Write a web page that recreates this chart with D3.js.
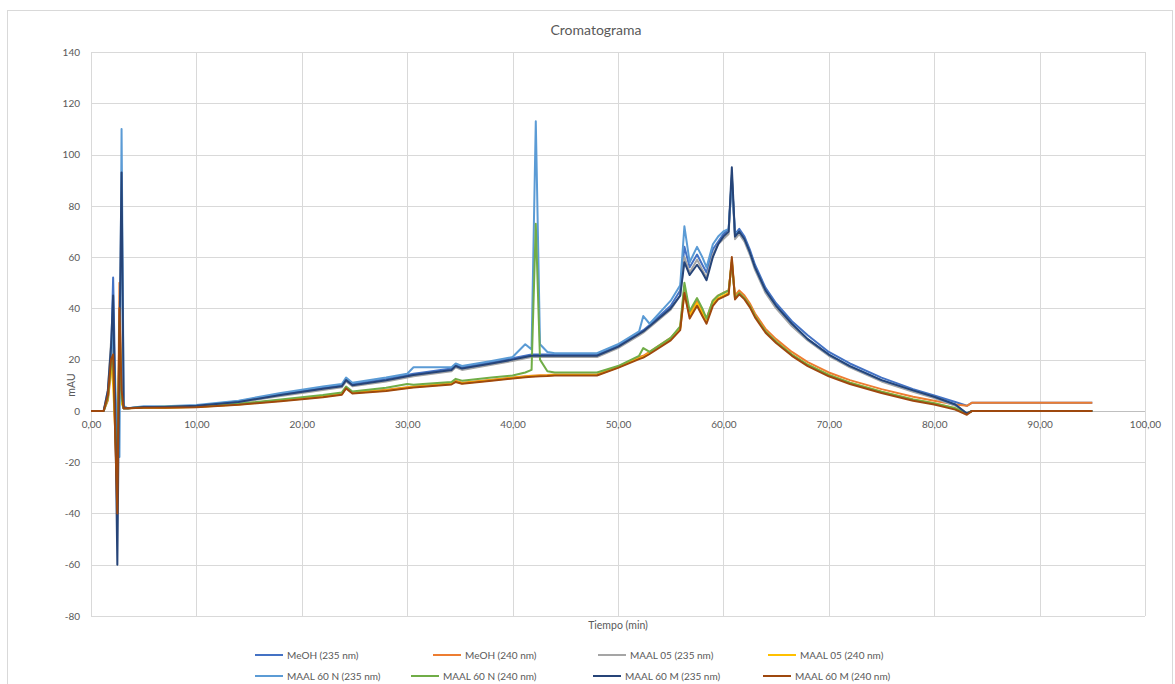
<!DOCTYPE html>
<html>
<head>
  <meta charset="utf-8">
  <script src="https://d3js.org/d3.v7.min.js"></script>
  <style>
    html, body {
      margin: 0px;
      padding: 0px;
      background: #ffffff;
      font-family: Lato, "Open Sans", sans-serif;
    }

    .axis text {
      fill: #595959;
      font-size: 10px;
      font-family: Lato, "Open Sans", sans-serif;
    }

    .title {
      fill: #595959;
      font-size: 14px;
    }

    .axisLabel {
      fill: #595959;
      font-size: 10.5px;
    }

    .legend text {
      fill: #595959;
      font-size: 10px;
    }
</style>
</head>
<body>
  <div id="chart"></div>
  <script>

      /*
      DATA
      */
      const tiempo = [
        0, 1.2, 1.6, 1.9, 2.1, 2.3, 2.5, 2.7, 2.9, 3.1, 3.5,
        5, 7, 10, 14, 18, 22, 23.8, 24.2, 24.8, 28,
        30, 30.6, 31.5, 34.2, 34.6, 35.2, 38, 40, 41.2, 41.8,
        42.2, 42.6, 43.3, 44, 48, 50, 52, 52.4, 53, 55,
        55.9, 56.3, 56.8, 57.5, 58, 58.4, 59, 59.5, 60, 60.5, 60.8,
        61.1, 61.5, 62, 62.5, 63, 64, 65, 66.5, 68, 70,
        72, 75, 78, 80, 82, 83.1, 83.6, 90, 95
      ];

      const meoh235 = [
        0, 0, 5, 20, 52, 10, -20, 25, 10, 1, 1,
        1.5, 1.5, 2, 3.8, 6.5, 9, 10, 12.5, 10.5, 12.5,
        14, 14.5, 15, 16.5, 18, 17, 19, 20.5, 21.5, 22,
        22, 22, 22, 22, 22, 25.5, 30.5, 31.5, 33.5, 41,
        47, 64, 56, 61, 57, 54, 63, 66, 69, 71, 90,
        69, 71, 68, 63, 57, 48, 42, 35, 29.5, 23,
        18.5, 13, 8.5, 6, 3.5, 2, 3.2, 3.2, 3.2
      ];

      const meoh240 = [
        0, 0, 4, 15, 25, -10, -33, 50, 5, 1, 1,
        1.3, 1.3, 1.6, 2.6, 4.2, 5.8, 6.8, 9, 7.2, 8.3,
        9.2, 9.5, 9.8, 10.8, 11.8, 11, 12.2, 13, 13.5, 13.7,
        13.8, 13.9, 14, 14.2, 14.2, 17.3, 21, 21.5, 23, 28.5,
        32.5, 48, 38, 43, 39, 36, 43, 45, 46, 47, 58,
        45, 47, 45, 42, 38, 32, 28, 23, 19, 15,
        12, 8.5, 5.5, 4, 2.5, 2, 3.2, 3.2, 3.2
      ];

      const maal05_235 = [
        0, 0, 8, 27, 15, -5, -25, 27, 5, 1, 1,
        1.5, 1.4, 1.8, 3.3, 5.8, 8.2, 9.2, 11.5, 9.6, 11.5,
        13, 13.5, 14, 15.5, 17, 16, 18, 19.5, 20.5, 21,
        21, 21, 21, 21, 21, 24.5, 29.5, 30.5, 32.5, 39.5,
        45, 60, 54, 59, 55, 52, 61, 65, 67, 69, 92,
        67, 69, 66, 61, 55, 46, 40, 33, 27.5, 21.5,
        17, 11.5, 7.5, 5, 2, -1, 0, 0, 0
      ];

      const maal05_240 = [
        0, 0, 5, 20, 10, -8, -30, 30, 3, 1, 1,
        1.2, 1.2, 1.5, 2.5, 4, 5.5, 6.5, 9, 7, 8,
        9, 9.3, 9.6, 10.5, 11.5, 10.8, 12, 12.8, 13.3, 13.5,
        13.6, 13.7, 13.8, 14, 14, 17, 20.5, 21, 22.5, 28,
        32, 46, 37, 42, 38, 35, 42, 44, 45, 46, 59,
        44, 46, 44, 41, 37, 31, 27, 22, 18, 14,
        11, 7.5, 4.5, 3, 1, -1, 0, 0, 0
      ];

      const maal60n_235 = [
        0, 0, 6, 22, 30, 5, -5, -18, 110, 2, 1,
        1.8, 1.8, 2.3, 4, 7, 9.5, 10.5, 13, 11, 13,
        14.5, 17, 17, 17, 18.5, 17.5, 19.5, 21, 26, 24,
        113, 26, 23, 22.5, 22.5, 26, 31, 37, 34, 43,
        49, 72, 58, 64, 60, 56, 65, 68, 70, 71, 91,
        69, 70, 67, 62, 56, 47, 41, 34, 28, 22,
        17.5, 12, 8, 5.5, 2.5, -1, 0, 0, 0
      ];

      const maal60n_240 = [
        0, 0, 5, 18, 20, -5, -30, 35, 5, 1, 1,
        1.4, 1.6, 1.7, 2.8, 4.5, 6.2, 7.2, 9.5, 7.6, 9,
        10.5, 10.2, 10.5, 11.3, 12.5, 11.8, 13, 13.8, 15, 16,
        73, 20, 15.5, 15, 15, 17.5, 21.5, 24.5, 23, 28.5,
        33, 50, 39, 44, 40, 36, 43, 45, 46, 47, 58,
        44, 46, 44, 41, 37, 31, 27, 22, 18, 14,
        11, 7.5, 4.5, 3, 1, -1, 0, 0, 0
      ];

      const maal60m_235 = [
        0, 0, 8, 25, 45, 0, -60, 27, 93, 1, 1,
        1.5, 1.5, 2, 3.5, 6.2, 8.6, 9.6, 12, 10, 12,
        13.5, 14, 14.5, 16, 17.5, 16.5, 18.5, 20, 21, 21.5,
        21.5, 21.5, 21.5, 21.5, 21.5, 25, 30, 31, 33, 40,
        45, 58, 53, 57, 54, 51, 60, 65, 68, 70, 95,
        68, 70, 67, 62, 56, 47, 41, 34, 28, 22,
        17.5, 12, 8, 5.5, 2.5, -1, 0, 0, 0
      ];

      const maal60m_240 = [
        0, 0, 6, 20, 22, -10, -40, 40, 8, 1, 1,
        1.2, 1.2, 1.4, 2.4, 3.8, 5.3, 6.3, 8.8, 6.8, 7.8,
        8.8, 9.1, 9.4, 10.3, 11.3, 10.6, 11.8, 12.6, 13.1, 13.3,
        13.4, 13.5, 13.6, 13.8, 13.8, 16.8, 20.2, 20.8, 22.2, 27.5,
        31.5, 46, 36, 41, 37, 34, 41, 43.5, 44.5, 45.5, 60,
        43.5, 45.5, 43.5, 40.5, 36.5, 30.5, 26.5, 21.5, 17.5, 13.5,
        10.5, 7, 4, 2.5, 0.5, -1.5, 0, 0, 0
      ];

      const seriesNames = [
        "MeOH (235 nm)", "MeOH (240 nm)", "MAAL 05 (235 nm)", "MAAL 05 (240 nm)",
        "MAAL 60 N (235 nm)", "MAAL 60 N (240 nm)", "MAAL 60 M (235 nm)", "MAAL 60 M (240 nm)"
      ];
      const seriesValues = [
        meoh235, meoh240, maal05_235, maal05_240,
        maal60n_235, maal60n_240, maal60m_235, maal60m_240
      ];

      const xTicks = [0, 10, 20, 30, 40, 50, 60, 70, 80, 90, 100];
      const yTicks = [-80, -60, -40, -20, 0, 20, 40, 60, 80, 100, 120, 140];

      /*
      SVG CANVAS
      */
      const width = 1175;
      const height = 684;
      const margin = {top: 52, left: 91, right: 30, bottom: 68};

      const svg = d3.select("#chart")
        .append("svg")
        .attr("width", width)
        .attr("height", height);

      // chart border
      svg.append("rect")
        .attr("x", 7.5)
        .attr("y", 10.5)
        .attr("width", width - 10)
        .attr("height", height)
        .attr("fill", "none")
        .attr("stroke", "#d9d9d9");

      /*
      SCALES
      */
      const xScale = d3.scaleLinear()
        .domain([0, 100])
        .range([margin.left, width - margin.right]);

      const yScale = d3.scaleLinear()
        .domain([-80, 140])
        .range([height - margin.bottom, margin.top]);

      const colorScale = d3.scaleOrdinal()
        .domain(seriesNames)
        .range(["#4472c4", "#ed7d31", "#a5a5a5", "#ffc000", "#5b9bd5", "#70ad47", "#264478", "#9e480e"]);

      /*
      GRIDLINES
      */
      svg.append("g")
        .selectAll("line")
        .data(yTicks)
        .enter()
        .append("line")
          .attr("x1", xScale(0))
          .attr("x2", xScale(100))
          .attr("y1", d => Math.round(yScale(d)) + 0.5)
          .attr("y2", d => Math.round(yScale(d)) + 0.5)
          .attr("stroke", d => d === 0 ? "#bfbfbf" : "#d9d9d9");

      svg.append("g")
        .selectAll("line")
        .data(xTicks)
        .enter()
        .append("line")
          .attr("x1", d => Math.round(xScale(d)) + 0.5)
          .attr("x2", d => Math.round(xScale(d)) + 0.5)
          .attr("y1", yScale(140))
          .attr("y2", yScale(-80))
          .attr("stroke", "#d9d9d9");

      /*
      AXES
      */
      const fmt = d => d3.format(".2f")(d).replace(".", ",");

      svg.append("g")
        .attr("class", "axis")
        .attr("transform", `translate(0,${yScale(0)})`)
        .call(d3.axisBottom(xScale).tickValues(xTicks).tickSize(0).tickPadding(10).tickFormat(fmt))
        .call(g => g.select(".domain").remove());

      svg.append("g")
        .attr("class", "axis")
        .attr("transform", `translate(${margin.left},0)`)
        .call(d3.axisLeft(yScale).tickValues(yTicks).tickSize(0).tickPadding(11).tickFormat(d => String(d)))
        .call(g => g.select(".domain").remove());

      /*
      LINES
      */
      const line = d3.line()
        .x((d, i) => xScale(tiempo[i]))
        .y(d => yScale(d));

      svg.append("g")
        .selectAll("path")
        .data(seriesValues)
        .enter()
        .append("path")
          .attr("d", d => line(d))
          .attr("fill", "none")
          .attr("stroke", (d, i) => colorScale(seriesNames[i]))
          .attr("stroke-width", 2)
          .attr("stroke-linejoin", "round");

      /*
      TITLE AND AXIS LABELS
      */
      svg.append("text")
        .attr("class", "title")
        .attr("x", 596)
        .attr("y", 35)
        .attr("text-anchor", "middle")
        .text("Cromatograma");

      svg.append("text")
        .attr("class", "axisLabel")
        .attr("x", (margin.left + width - margin.right) / 2)
        .attr("y", 629)
        .attr("text-anchor", "middle")
        .text("Tiempo (min)");

      svg.append("text")
        .attr("class", "axisLabel")
        .attr("x", -385)
        .attr("y", 75)
        .attr("text-anchor", "middle")
        .attr("transform", "rotate(-90)")
        .text("mAU");

      /*
      LEGEND
      */
      const legendX = [255, 433, 598, 768, 255, 411, 593, 763];
      const legendY = [655, 655, 655, 655, 676, 676, 676, 676];

      const legend = svg.append("g")
        .attr("class", "legend")
        .selectAll("g")
        .data(seriesNames)
        .enter()
        .append("g")
          .attr("transform", (d, i) => `translate(${legendX[i]},${legendY[i]})`);

      legend.append("line")
        .attr("x1", 0)
        .attr("x2", 28)
        .attr("stroke", d => colorScale(d))
        .attr("stroke-width", 2);

      legend.append("text")
        .attr("x", 32)
        .attr("dy", "0.35em")
        .text(d => d);

  </script>
</body>
</html>
